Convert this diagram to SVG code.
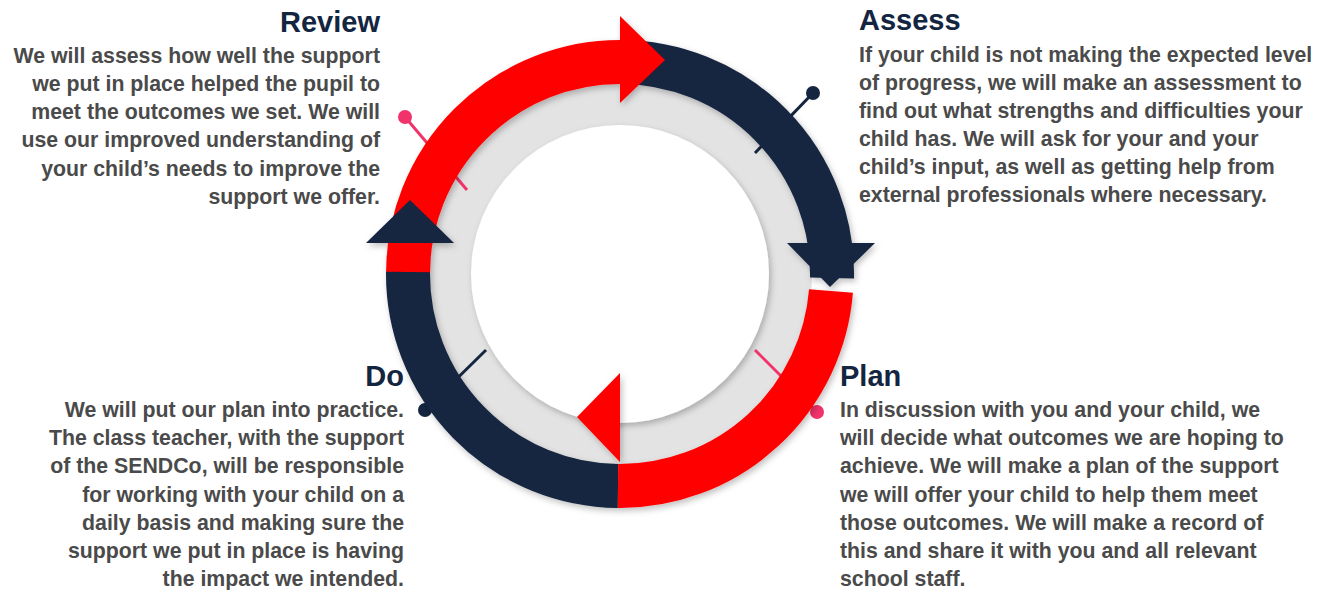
<svg xmlns="http://www.w3.org/2000/svg" width="1330" height="590" viewBox="0 0 1330 590">
<defs>
<style>
.t{font-family:"Liberation Sans",Arial,sans-serif;font-weight:bold;font-size:29px;fill:#14253f}
.b{font-family:"Liberation Sans",Arial,sans-serif;font-weight:bold;font-size:21.3px;fill:#4a4a4a}
.r{text-anchor:end}
.arc{fill:none;stroke-width:44}
.navy{fill:#14253f}
.red{fill:#ff0000}
.pinN{stroke:#14253f;stroke-width:3;fill:none}
.pinR{stroke:#f2336b;stroke-width:3;fill:none}
</style>
<filter id="sh" x="-20%" y="-20%" width="140%" height="140%">
<feDropShadow dx="2" dy="3" stdDeviation="3" flood-color="#000" flood-opacity="0.25"/>
</filter>
</defs>
<rect width="1330" height="590" fill="#fff"/>
<g id="ring">
<circle cx="620" cy="274" r="192" fill="#e3e3e3"/>
<circle cx="620" cy="274" r="149" fill="#fff" filter="url(#sh)"/>
</g>
<g id="connectors">
<line class="pinN" x1="755" y1="153" x2="813" y2="93"/>
<circle cx="813" cy="93" r="7" class="navy"/>
<line class="pinR" x1="467" y1="190" x2="405" y2="117"/>
<circle cx="405" cy="117" r="7" fill="#f2336b"/>
<line class="pinN" x1="486" y1="350" x2="425" y2="410"/>
<circle cx="425" cy="410" r="7" class="navy"/>
<line class="pinR" x1="755" y1="350" x2="817" y2="412"/>
<circle cx="817" cy="412" r="7" fill="#f2336b"/>
</g>
<g id="cycle" filter="url(#sh)">
<path class="arc" stroke="#14253f" d="M 620 62 A 212 212 0 0 1 832 278"/>
<path class="arc" stroke="#ff0000" d="M 408 274 A 212 212 0 0 1 620 62"/>
<polygon class="red" points="620,16 620,103 665,60"/>
<polygon class="navy" points="787,243 875,243 830,287"/>
<path class="arc" stroke="#14253f" d="M 618 486 A 212 212 0 0 1 408 272"/>
<path class="arc" stroke="#ff0000" d="M 831 291 A 212 212 0 0 1 618 486"/>
<polygon class="red" points="620,373 620,462 577,417"/>
<polygon class="navy" points="366,243 454,243 410,200"/>
</g>
<g id="review">
<text class="t r" x="380" y="32">Review</text>
<text class="b r" x="380" y="63">We will assess how well the support</text>
<text class="b r" x="380" y="91">we put in place helped the pupil to</text>
<text class="b r" x="380" y="119">meet the outcomes we set. We will</text>
<text class="b r" x="380" y="147">use our improved understanding of</text>
<text class="b r" x="380" y="176">your child’s needs to improve the</text>
<text class="b r" x="380" y="204">support we offer.</text>
</g>
<g id="assess">
<text class="t" x="859" y="30">Assess</text>
<text class="b" x="859" y="62">If your child is not making the expected level</text>
<text class="b" x="859" y="90">of progress, we will make an assessment to</text>
<text class="b" x="859" y="118">find out what strengths and difficulties your</text>
<text class="b" x="859" y="146">child has. We will ask for your and your</text>
<text class="b" x="859" y="174">child’s input, as well as getting help from</text>
<text class="b" x="859" y="202">external professionals where necessary.</text>
</g>
<g id="do">
<text class="t r" x="404" y="386">Do</text>
<text class="b r" x="404" y="417">We will put our plan into practice.</text>
<text class="b r" x="404" y="445">The class teacher, with the support</text>
<text class="b r" x="404" y="473">of the SENDCo, will be responsible</text>
<text class="b r" x="404" y="502">for working with your child on a</text>
<text class="b r" x="404" y="530">daily basis and making sure the</text>
<text class="b r" x="404" y="558">support we put in place is having</text>
<text class="b r" x="404" y="586">the impact we intended.</text>
</g>
<g id="plan">
<text class="t" x="840" y="386">Plan</text>
<text class="b" x="840" y="417">In discussion with you and your child, we</text>
<text class="b" x="840" y="445">will decide what outcomes we are hoping to</text>
<text class="b" x="840" y="473">achieve. We will make a plan of the support</text>
<text class="b" x="840" y="502">we will offer your child to help them meet</text>
<text class="b" x="840" y="530">those outcomes. We will make a record of</text>
<text class="b" x="840" y="558">this and share it with you and all relevant</text>
<text class="b" x="840" y="586">school staff.</text>
</g>
</svg>
